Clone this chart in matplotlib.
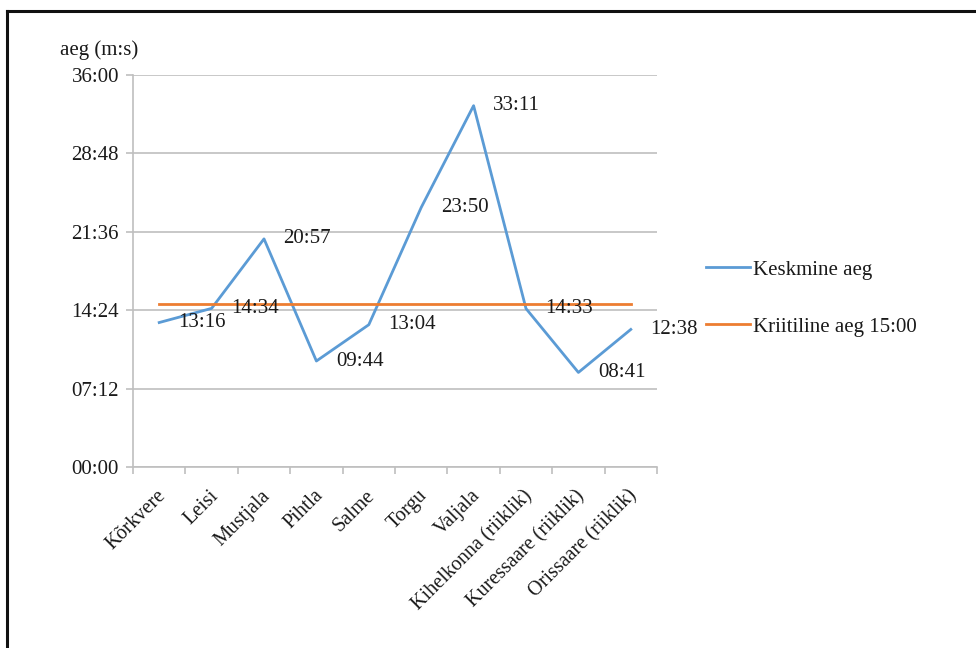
import matplotlib
matplotlib.use("Agg")
import matplotlib.pyplot as plt
from matplotlib.lines import Line2D
from matplotlib.ticker import FuncFormatter, MultipleLocator
from matplotlib.transforms import ScaledTranslation

categories = ["Kõrkvere", "Leisi", "Mustjala", "Pihtla", "Salme", "Torgu", "Valjala",
              "Kihelkonna (riiklik)", "Kuressaare (riiklik)", "Orissaare (riiklik)"]
avg_time = ["13:16", "14:34", "20:57", "09:44", "13:04", "23:50", "33:11", "14:33", "08:41", "12:38"]
critical_time = "15:00"
y_label = "aeg (m:s)"
series_names = ["Keskmine aeg", "Kriitiline aeg 15:00"]


def to_sec(s):
    m, sec = s.split(":")
    return int(m) * 60 + int(sec)


avg_sec = [to_sec(v) for v in avg_time]
crit_sec = [to_sec(critical_time)] * len(categories)

plt.rcParams['font.family'] = ['Liberation Serif', 'DejaVu Serif']
FS = 15
TXT = "#1a1a1a"

fig = plt.figure(figsize=(9.76, 6.48), dpi=100)
W, H = 976, 648
ax = fig.add_axes([133 / W, 1 - 467 / H, (657 - 133) / W, (467 - 75) / H])

x = list(range(len(categories)))
blue = "#5B9BD5"
orange = "#ED7D31"
l1, = ax.plot(x, avg_sec, color=blue, lw=2.0, label=series_names[0], zorder=3)
l2, = ax.plot(x, crit_sec, color=orange, lw=2.0, label=series_names[1], zorder=3)

for xi, yi, lab in zip(x, avg_sec, avg_time):
    ax.annotate(lab, (xi, yi), xytext=(14, 0), textcoords="offset points",
                ha="left", va="center", fontsize=FS, color=TXT, zorder=4,
                annotation_clip=False)

ax.set_xlim(-0.5, len(categories) - 0.5)
ax.set_ylim(0, 36 * 60)
ax.yaxis.set_major_locator(MultipleLocator(432))
ax.yaxis.set_major_formatter(FuncFormatter(lambda v, p: f"{int(round(v)) // 60:02d}:{int(round(v)) % 60:02d}"))
ax.grid(axis="y", color="#BFBFBF", lw=1.2)
ax.set_axisbelow(True)

ax.set_xticks([i + 0.5 for i in range(-1, len(categories))])
ax.set_xticklabels([])
ax.set_xticks(x, minor=True)
ax.set_xticklabels(categories, minor=True, rotation=45, ha="right", rotation_mode="anchor",
                   fontsize=14.5, color=TXT)
ax.tick_params(axis="x", which="minor", length=0, pad=14)
ax.tick_params(axis="x", which="major", length=5, color="#BFBFBF", width=1.2)
ax.tick_params(axis="y", length=5, color="#BFBFBF", width=1.2, labelsize=FS, labelcolor=TXT, pad=5)
shift = ScaledTranslation(-3 / 100, 0, fig.dpi_scale_trans)
for lbl in ax.get_xticklabels(minor=True):
    lbl.set_transform(lbl.get_transform() + shift)

for s in ["top", "right"]:
    ax.spines[s].set_visible(False)
for s in ["left", "bottom"]:
    ax.spines[s].set_color("#BFBFBF")
    ax.spines[s].set_linewidth(1.2)

fig.text(99 / W, 1 - 50 / H, y_label, ha="center", va="center", fontsize=FS, color=TXT)

fig.legend(handles=[l1, l2], loc="upper left", bbox_to_anchor=(706 / W, 1 - 260 / H),
           frameon=False, fontsize=FS, handlelength=2.1, handletextpad=0.15,
           labelspacing=1.8, borderpad=0, borderaxespad=0, labelcolor=TXT)

# outer frame
fig.add_artist(Line2D([7 / W, 1], [1 - 11 / H, 1 - 11 / H], color="#111111", lw=2.2,
                      transform=fig.transFigure))
fig.add_artist(Line2D([7 / W, 7 / W], [0, 1 - 11 / H], color="#111111", lw=2.2,
                      transform=fig.transFigure))

fig.savefig("out.png", dpi=100, facecolor="white")
